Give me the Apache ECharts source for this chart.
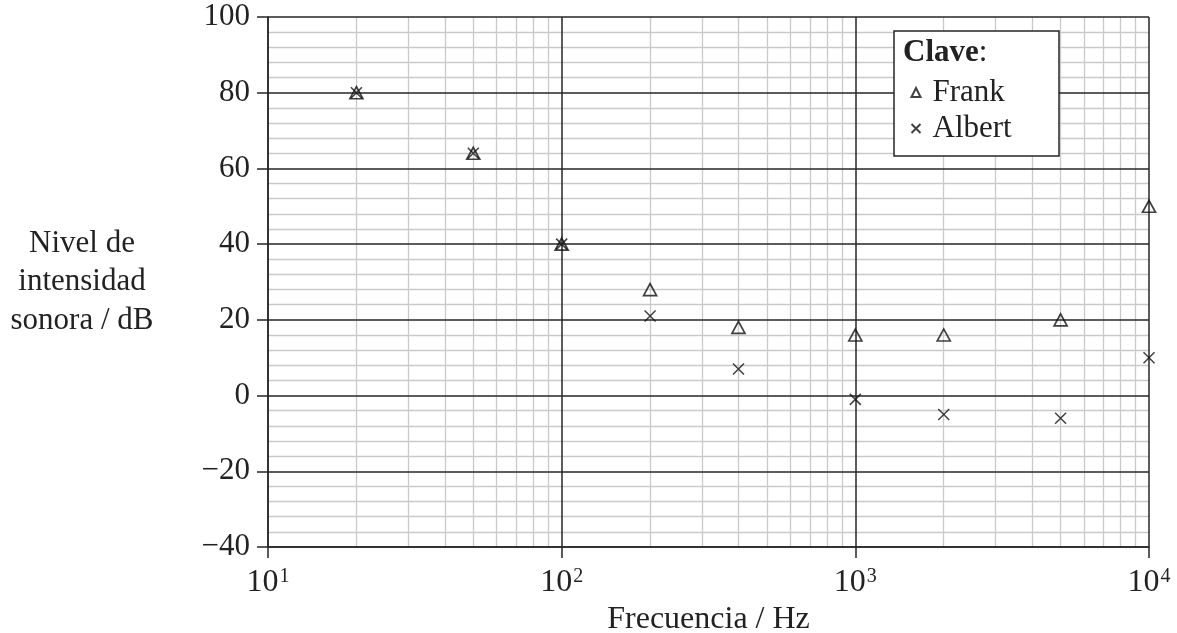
<!DOCTYPE html>
<html>
<head>
<meta charset="utf-8">
<script src="https://cdn.jsdelivr.net/npm/echarts@6/dist/echarts.min.js"></script>
<style>html,body{margin:0;padding:0;background:#fff;}#c{width:1177px;height:633px;}</style>
</head>
<body>
<div id="c"></div>
<script>
// Data
var frequencies = [20, 50, 100, 200, 400, 1000, 2000, 5000, 10000];
var frankDb  = [80, 64, 40, 28, 18, 16, 16, 20, 50];
var albertDb = [80, 64, 40, 21, 7, -1, -5, -6, 10];
var yTicks = [-40, -20, 0, 20, 40, 60, 80, 100];
var xTickExponents = {10: '1', 100: '2', 1000: '3', 10000: '4'};
var xMinorGrid = [20,30,40,50,60,70,80,90,200,300,400,500,600,700,800,900,2000,3000,4000,5000,6000,7000,8000,9000];

var FONT = '"Liberation Serif", "Times New Roman", serif';
var DARK = '#262626';
var GREY = '#c9c9c9';

function pairs(xs, ys){ return xs.map(function(x,i){ return [x, ys[i]]; }); }

var chart = echarts.init(document.getElementById('c'));
chart.setOption({
  animation: false,
  backgroundColor: '#fff',
  grid: { left: 268, right: 28, top: 17, bottom: 86, containLabel: false, outerBoundsMode: 'none' },
  xAxis: {
    type: 'log', logBase: 10, min: 10, max: 10000,
    name: 'Frecuencia / Hz', nameLocation: 'middle', nameGap: 47,
    nameTextStyle: { fontFamily: FONT, fontSize: 32, color: '#222' },
    axisLine: { show: true, onZero: false, lineStyle: { color: DARK, width: 1.5 } },
    axisTick: { show: true, inside: false, length: 11, lineStyle: { color: DARK, width: 1.5 } },
    splitLine: { show: true, lineStyle: { color: DARK, width: 1.5 } },
    minorTick: { show: false },
    minorSplitLine: { show: false },
    axisLabel: {
      margin: 20,
      formatter: function(v){ var e = xTickExponents[Math.round(v)]; return e ? '{b|10}{s|' + e + '}' : ''; },
      rich: {
        b: { fontFamily: FONT, fontSize: 32, color: '#222' },
        s: { fontFamily: FONT, fontSize: 20, color: '#222', verticalAlign: 'top', padding: [0,0,11,1] }
      }
    }
  },
  yAxis: {
    type: 'value', min: -40, max: 100, interval: 20,
    name: 'Nivel de\nintensidad\nsonora / dB', nameLocation: 'middle', nameGap: 186, nameRotate: 0,
    nameTextStyle: { fontFamily: FONT, fontSize: 31, color: '#222', lineHeight: 38.5, align: 'center', verticalAlign: 'middle' },
    axisLine: { show: true, onZero: false, lineStyle: { color: DARK, width: 1.5 } },
    axisTick: { show: true, inside: false, length: 11, lineStyle: { color: DARK, width: 1.5 } },
    splitLine: { show: true, lineStyle: { color: DARK, width: 1.5 } },
    minorTick: { show: false, splitNumber: 5 },
    minorSplitLine: { show: true, lineStyle: { color: GREY, width: 1.3 } },
    axisLabel: {
      margin: 18,
      fontFamily: FONT, fontSize: 31, color: '#222',
      formatter: function(v){ return yTicks.indexOf(v) >= 0 ? String(v).replace('-', '\u2212') : ''; }
    }
  },
  legend: {
    orient: 'vertical', left: 909, top: 77, itemGap: 5, z: 110,
    itemWidth: 9, itemHeight: 9,
    padding: 0,
    textStyle: { fontFamily: FONT, fontSize: 31, color: '#222', padding: [0,0,0,7] },
    data: ['Frank', 'Albert']
  },
  graphic: [
    { type: 'rect', z: 100, shape: { x: 894, y: 31, width: 165, height: 125 },
      style: { fill: '#fff', stroke: DARK, lineWidth: 1.5 } },
    { type: 'text', z: 101, left: 903, top: 37,
      style: { text: '{b|Clave}{n|:}', rich: {
        b: { fontFamily: FONT, fontSize: 31, fontWeight: 'bold', fill: '#222' },
        n: { fontFamily: FONT, fontSize: 31, fill: '#222' } } } }
  ],
  series: [
    {
      name: 'minorGrid', type: 'line', data: [], z: -1, silent: true,
      markLine: {
        z: -1, silent: true, symbol: ['none','none'], label: { show: false },
        lineStyle: { color: GREY, width: 1.3, type: 'solid' },
        emphasis: { disabled: true },
        data: xMinorGrid.map(function(v){ return { xAxis: v }; })
      }
    },
    {
      name: 'Frank', type: 'scatter', data: pairs(frequencies, frankDb), z: 5,
      symbol: 'triangle', symbolSize: [13, 12],
      itemStyle: { color: 'none', borderColor: '#111', borderWidth: 1.7 }
    },
    {
      name: 'Albert', type: 'scatter', data: pairs(frequencies, albertDb), z: 6,
      symbol: 'path://M0,0L10,10M10,0L0,10', symbolSize: [11, 11],
      itemStyle: { color: 'none', borderColor: '#111', borderWidth: 1.5 }
    }
  ]
});
</script>
</body>
</html>
